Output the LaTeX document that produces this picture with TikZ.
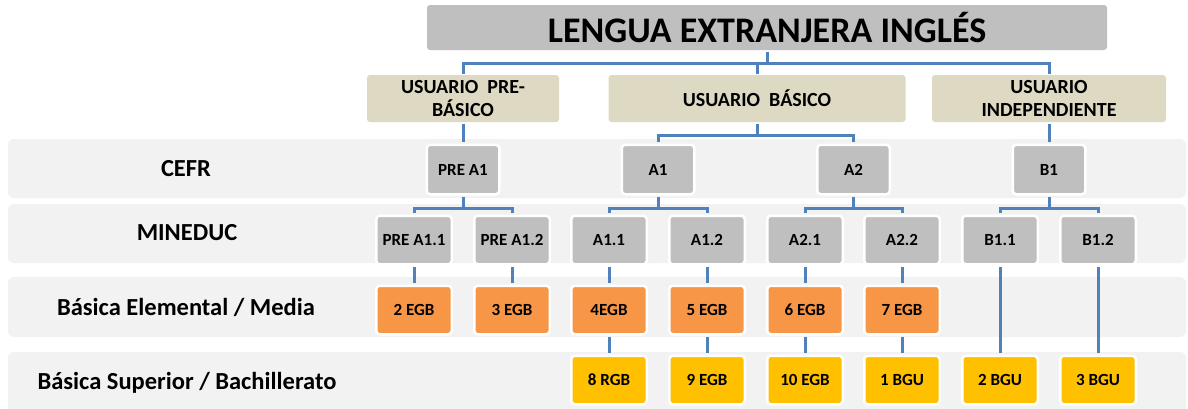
\documentclass[tikz,border=0pt]{standalone}
\usepackage{fontspec}
\setmainfont{Carlito}
\definecolor{bandc}{HTML}{F2F2F2}
\definecolor{grayc}{HTML}{BFBFBF}
\definecolor{beigec}{HTML}{DDD9C3}
\definecolor{orangec}{HTML}{F79646}
\definecolor{yellowc}{HTML}{FFC000}
\definecolor{linec}{HTML}{4F81BD}
\tikzset{
  band/.style={fill=bandc, rounded corners=6pt, draw=none},
  rowlabel/.style={font=\bfseries\fontsize{24.5}{26}\selectfont, anchor=center},
  box/.style={rounded corners=3.5pt, draw=white, line width=2.5pt, inner sep=0pt, font=\bfseries\fontsize{17}{19}\selectfont, align=center},
  cefrbox/.style={box, fill=grayc, minimum width=72.5pt, minimum height=49.5pt},
  minbox/.style={box, fill=grayc, minimum width=75.5pt, minimum height=48.5pt},
  elembox/.style={box, fill=orangec, minimum width=75.5pt, minimum height=48.5pt},
  supbox/.style={box, fill=yellowc, minimum width=75.5pt, minimum height=48.5pt},
  userbox/.style={rounded corners=3pt, fill=beigec, inner sep=0pt, minimum height=47pt, font=\bfseries\fontsize{20}{23}\selectfont, align=center},
  conn/.style={draw=linec, line width=3pt, shorten >=1.3pt, shorten <=1.3pt}
}
\begin{document}
\begin{tikzpicture}[x=1pt,y=-1pt]
\useasboundingbox (0,0) rectangle (1188,408);
\fill[white] (0,0) rectangle (1188,408);
% bands
\path[band] (8,139) rectangle (1186,198);
\path[band] (8,204) rectangle (1186,263);
\path[band] (8,277) rectangle (1186,337);
\path[band] (8,352) rectangle (1186,414);
\node[rowlabel] (lcefr) at (186,169) {CEFR};
\node[rowlabel] (lmin) at (187,233) {MINEDUC};
\node[rowlabel] (lelem) at (186,307) {Básica Elemental / Media};
\node[rowlabel] (lsup) at (187,383) {Básica Superior / Bachillerato};
% title and user levels
\node[rounded corners=3pt, fill=grayc, minimum width=680pt, minimum height=45pt, inner sep=0pt, font=\bfseries\fontsize{36}{36}\selectfont] (title) at (767,27.5) {LENGUA EXTRANJERA INGLÉS};
\node[userbox, minimum width=192pt] (pre) at (463,98.5) {USUARIO\ \ PRE-\\BÁSICO};
\node[userbox, minimum width=297pt] (basic) at (757,98.5) {USUARIO\ \ BÁSICO};
\node[userbox, minimum width=234pt] (ind) at (1049,98.5) {USUARIO\\INDEPENDIENTE};
% coordinates
\coordinate (j0) at (767,63);
\coordinate (j1) at (757,135);
\coordinate (j2) at (0,208);
% CEFR
\node[cefrbox] (prea1) at (463,169.5) {PRE A1};
\node[cefrbox] (a1) at (658,169.5) {A1};
\node[cefrbox] (a2) at (853.5,169.5) {A2};
\node[cefrbox] (b1) at (1049,169.5) {B1};
% MINEDUC
\node[minbox] (pa11) at (414,240) {PRE A1.1};
\node[minbox] (pa12) at (512,240) {PRE A1.2};
\node[minbox] (a11) at (609,240) {A1.1};
\node[minbox] (a12) at (707,240) {A1.2};
\node[minbox] (a21) at (805,240) {A2.1};
\node[minbox] (a22) at (902,240) {A2.2};
\node[minbox] (b11) at (1000,240) {B1.1};
\node[minbox] (b12) at (1098,240) {B1.2};
% Elemental
\node[elembox] (e2) at (414,310) {2 EGB};
\node[elembox] (e3) at (512,310) {3 EGB};
\node[elembox] (e4) at (609,310) {4EGB};
\node[elembox] (e5) at (707,310) {5 EGB};
\node[elembox] (e6) at (805,310) {6 EGB};
\node[elembox] (e7) at (902,310) {7 EGB};
% Superior
\node[supbox] (s8) at (609,380) {8 RGB};
\node[supbox] (s9) at (707,380) {9 EGB};
\node[supbox] (s10) at (805,380) {10 EGB};
\node[supbox] (b1g) at (902,380) {1 BGU};
\node[supbox] (b2g) at (1000,380) {2 BGU};
\node[supbox] (b3g) at (1098,380) {3 BGU};
% connectors
\draw[conn] (title.south) -- (title.south |- j0);
\draw[conn] (pre.north) |- (j0) -| (ind.north);
\draw[conn] (basic.north) -- (basic.north |- j0);
\draw[conn] (pre.south) -- (prea1.north);
\draw[conn] (basic.south) -- (j1);
\draw[conn] (a1.north) |- (j1) -| (a2.north);
\draw[conn] (ind.south) -- (b1.north);
\draw[conn] (prea1.south) -- (prea1.south |- j2);
\draw[conn] (pa11.north) |- (prea1.south |- j2) -| (pa12.north);
\draw[conn] (a1.south) -- (a1.south |- j2);
\draw[conn] (a11.north) |- (a1.south |- j2) -| (a12.north);
\draw[conn] (a2.south) -- (a2.south |- j2);
\draw[conn] (a21.north) |- (a2.south |- j2) -| (a22.north);
\draw[conn] (b1.south) -- (b1.south |- j2);
\draw[conn] (b11.north) |- (b1.south |- j2) -| (b12.north);
\draw[conn] (pa11.south) -- (e2.north);
\draw[conn] (pa12.south) -- (e3.north);
\draw[conn] (a11.south) -- (e4.north);
\draw[conn] (a12.south) -- (e5.north);
\draw[conn] (a21.south) -- (e6.north);
\draw[conn] (a22.south) -- (e7.north);
\draw[conn] (e4.south) -- (s8.north);
\draw[conn] (e5.south) -- (s9.north);
\draw[conn] (e6.south) -- (s10.north);
\draw[conn] (e7.south) -- (b1g.north);
\draw[conn] (b11.south) -- (b2g.north);
\draw[conn] (b12.south) -- (b3g.north);
\end{tikzpicture}
\end{document}
